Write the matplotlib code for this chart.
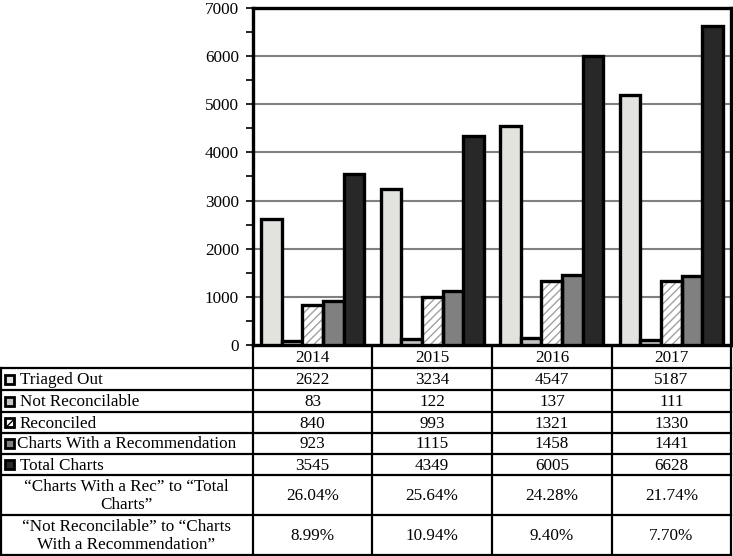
import matplotlib
matplotlib.use("Agg")
import matplotlib.pyplot as plt
from matplotlib.patches import Rectangle
import numpy as np

years = ["2014", "2015", "2016", "2017"]
series_names = ["Triaged Out", "Not Reconcilable", "Reconciled",
                "Charts With a Recommendation", "Total Charts"]
triaged_out = [2622, 3234, 4547, 5187]
not_reconcilable = [83, 122, 137, 111]
reconciled = [840, 993, 1321, 1330]
charts_with_rec = [923, 1115, 1458, 1441]
total_charts = [3545, 4349, 6005, 6628]
ratio_labels = ["\u201cCharts With a Rec\u201d to \u201cTotal\nCharts\u201d",
                "\u201cNot Reconcilable\u201d to \u201cCharts\nWith a Recommendation\u201d"]
ratio_rec_total = ["26.04%", "25.64%", "24.28%", "21.74%"]
ratio_nr_rec = ["8.99%", "10.94%", "9.40%", "7.70%"]

series = [triaged_out, not_reconcilable, reconciled, charts_with_rec, total_charts]
fills = ["#e2e3df", "#c4c4c2", "white", "#808080", "#282828"]
hatches = [None, None, "////", None, None]

plt.rcParams['font.family'] = ['Liberation Serif', 'DejaVu Serif']
FS = 12.3
plt.rcParams['font.size'] = FS

W, H = 733, 556
fig = plt.figure(figsize=(W / 100, H / 100), dpi=100)

# main chart axes (pixel geometry)
ax_l, ax_r, ax_t, ax_b = 253, 731, 8, 345
ax = fig.add_axes([ax_l / W, 1 - ax_b / H, (ax_r - ax_l) / W, (ax_b - ax_t) / H])
ax.set_xlim(0, len(years))
ax.set_ylim(0, 7000)
bw = 0.172
x = np.arange(len(years))
start = 0.5 - 2.5 * bw
for i, vals in enumerate(series):
    xs = x + start + i * bw + bw / 2
    if hatches[i]:
        ax.bar(xs, vals, bw, color=fills[i], edgecolor="#a0a0a0", hatch=hatches[i],
               linewidth=0, zorder=3)
        ax.bar(xs, vals, bw, fill=False, edgecolor="black", linewidth=2.4, zorder=4)
    else:
        ax.bar(xs, vals, bw, color=fills[i], edgecolor="black", linewidth=2.4, zorder=3)

ax.set_yticks(np.arange(0, 7001, 1000))
ax.set_yticks(np.arange(500, 7000, 1000), minor=True)
ax.yaxis.grid(True, color="#808080", linewidth=1.5, zorder=0)
ax.tick_params(axis='y', which='major', length=5, width=1.2, direction='out', labelsize=FS, pad=5)
ax.tick_params(axis='y', which='minor', length=5, width=1.2, direction='out')
ax.set_xticks([])
for s in ax.spines.values():
    s.set_linewidth(2.4)
    s.set_color("black")

# table axes in pixel coordinates
tab = fig.add_axes([0, 0, 1, 1], zorder=-1)
tab.set_xlim(0, W)
tab.set_ylim(H, 0)
tab.axis("off")

col_x = [0, 253, 372, 492, 612, 731]
row_y = [345, 368, 390, 412, 433, 454, 475, 515, 555]
lw = 1.6
tab.plot([0, 731], [368, 368], color="black", lw=lw)
for yy in row_y[2:]:
    tab.plot([0, 731], [yy, yy], color="black", lw=lw)
for xx in col_x:
    if xx == 0:
        tab.plot([xx + 0.5, xx + 0.5], [368, 555], color="black", lw=lw)
    else:
        tab.plot([xx, xx], [345, 555], color="black", lw=lw)

for j, yr in enumerate(years):
    tab.text((col_x[j + 1] + col_x[j + 2]) / 2, (row_y[0] + row_y[1]) / 2 + 1, yr,
             ha="center", va="center", fontsize=FS)

for i, name in enumerate(series_names):
    yc = (row_y[i + 1] + row_y[i + 2]) / 2
    mx = 5
    tab.add_patch(Rectangle((mx, yc - 4.5), 9, 9, facecolor=fills[i], edgecolor="black",
                            lw=2, hatch=hatches[i]))
    tx = 17 if i == 3 else 20
    tab.text(tx, yc + 1, name, ha="left", va="center", fontsize=FS)
    for j in range(len(years)):
        tab.text((col_x[j + 1] + col_x[j + 2]) / 2, yc + 1, str(series[i][j]),
                 ha="center", va="center", fontsize=FS)

for k, (lab, vals) in enumerate([(ratio_labels[0], ratio_rec_total), (ratio_labels[1], ratio_nr_rec)]):
    yc = (row_y[6 + k] + row_y[7 + k]) / 2
    tab.text(126, yc + 1, lab, ha="center", va="center", fontsize=FS, linespacing=1.1)
    for j in range(len(years)):
        tab.text((col_x[j + 1] + col_x[j + 2]) / 2, yc + 1, vals[j],
                 ha="center", va="center", fontsize=FS)

fig.savefig("out.png", dpi=100)
